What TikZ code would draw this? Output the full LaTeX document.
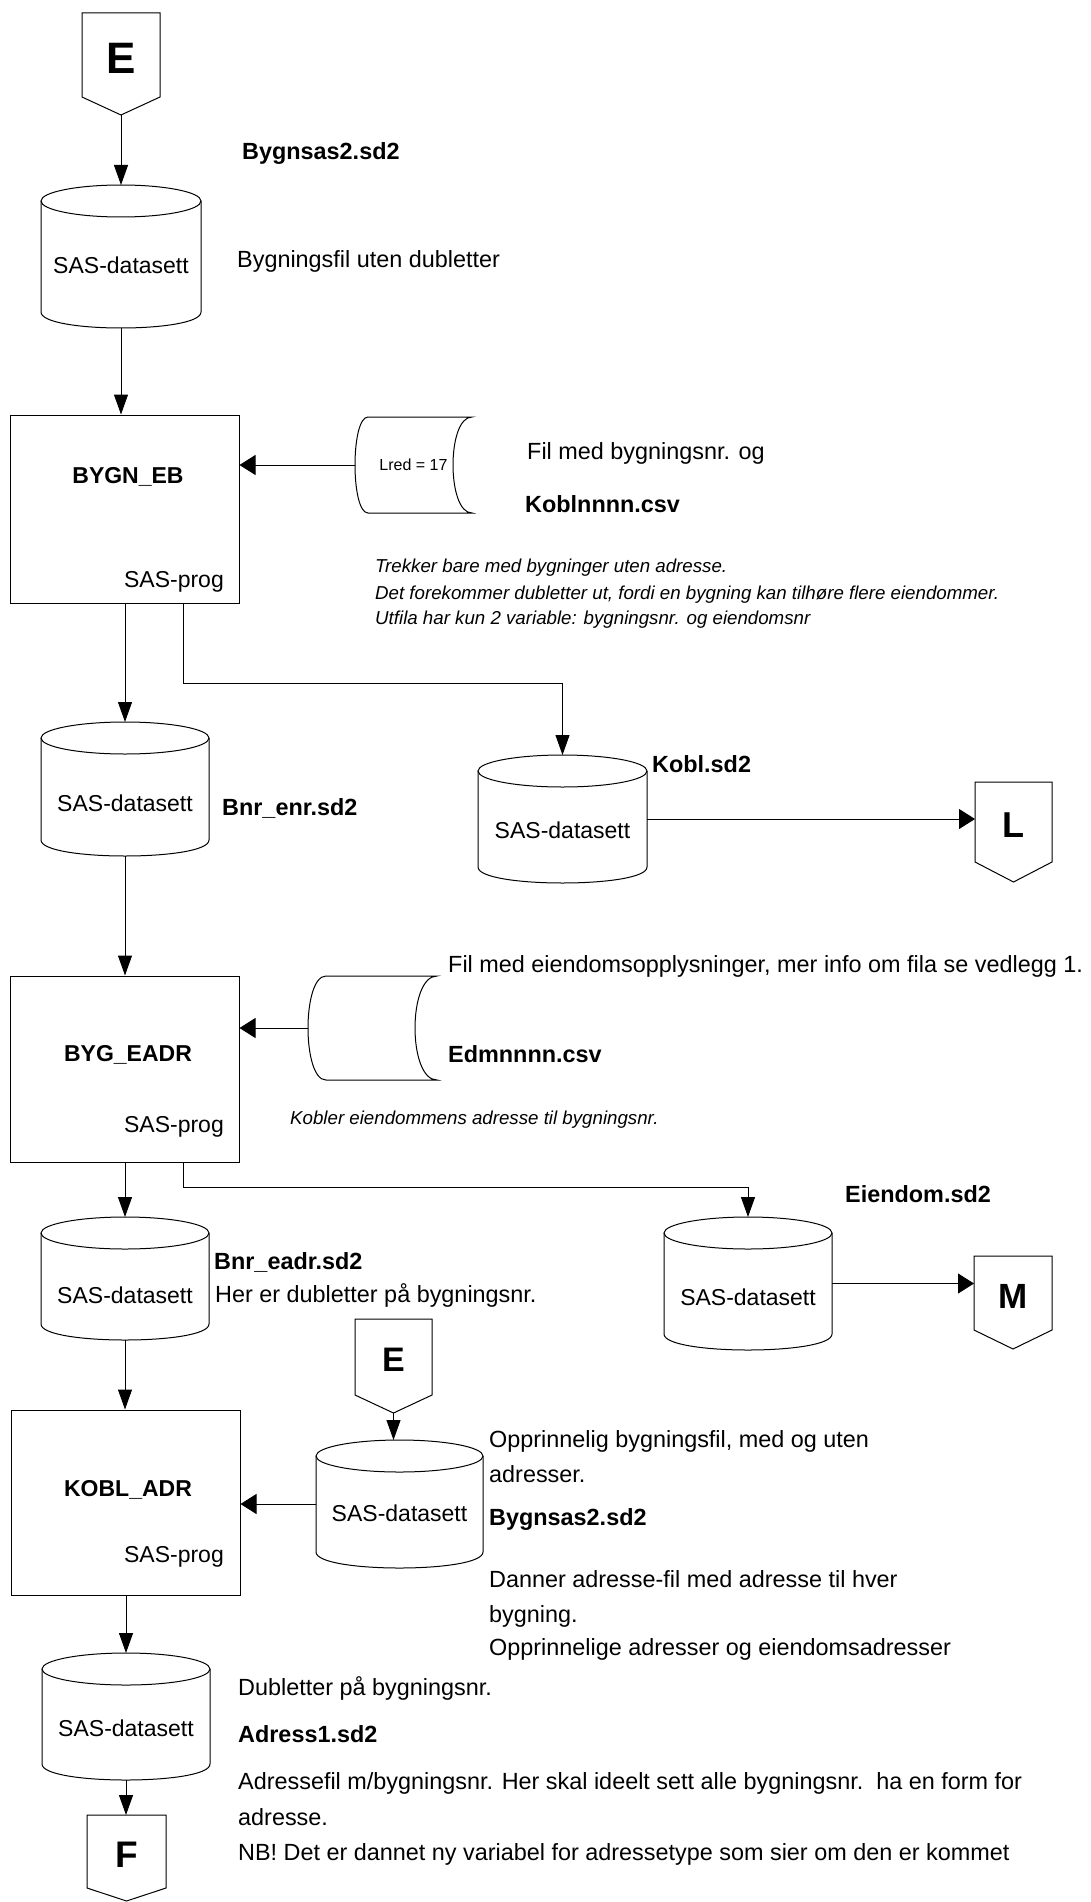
\documentclass[tikz,border=0pt]{standalone}
\usepackage{fontspec}
\setmainfont{Liberation Sans}
\usetikzlibrary{arrows.meta}

\tikzset{
  line/.style={line width=1pt, draw=black},
  vtip/.style={-{Triangle[length=20pt,width=14pt]}},
  htip/.style={-{Triangle[length=16pt,width=20pt]}},
  lbl/.style={anchor=base west, inner sep=0pt, font=\fontsize{23.4}{27}\selectfont},
  blbl/.style={anchor=base west, inner sep=0pt, font=\fontsize{23.4}{27}\selectfont\bfseries},
  ilbl/.style={anchor=base west, inner sep=0pt, font=\fontsize{18.7}{22}\selectfont\itshape},
  intext/.style={anchor=base, inner sep=0pt, font=\fontsize{23}{27}\selectfont},
  progname/.style={anchor=base, inner sep=0pt, font=\fontsize{23}{27}\selectfont\bfseries},
  progtag/.style={anchor=base east, inner sep=0pt, font=\fontsize{23}{27}\selectfont},
  procbox/.style={line, rectangle, inner sep=0pt},
  anchorbox/.style={inner sep=0pt, outer sep=0pt, rectangle}
}

% data set cylinder: name, centre x, top, bottom, half width, text baseline
\newcommand\datacyl[6]{%
  \node[anchorbox, minimum width={(2*#5)*1pt}, minimum height={(#4-#3)*1pt}] (#1) at ({#2},{(#3+#4)/2}) {};
  \draw[line] ({#2},{#3+16}) ellipse [x radius=#5, y radius=16];
  \draw[line] ({#2-#5},{#3+16}) -- ({#2-#5},{#4-16})
     .. controls ({#2-#5},{#4+5.33}) and ({#2+#5},{#4+5.33}) .. ({#2+#5},{#4-16})
     -- ({#2+#5},{#3+16});
  \node[intext] at ({#2},{#6}) {SAS-datasett};
}

% off-page connector: name, centre x, top, shoulder, point, half width, letter, letter size
\newcommand\offpage[8]{%
  \node[anchorbox, minimum width={(2*#6)*1pt}, minimum height={(#5-#3)*1pt}] (#1) at ({#2},{(#3+#5)/2}) {};
  \draw[line] ({#2-#6},{#3}) -- ({#2+#6},{#3}) -- ({#2+#6},{#4}) -- ({#2},{#5}) -- ({#2-#6},{#4}) -- cycle;
  \node[inner sep=0pt, font=\fontsize{#8}{#8}\selectfont\bfseries] at ({#2},{(#3+#4)/2+3}) {#7};
}

% stored file: name, left, right, top, bottom, left bulge, right inset, text
\newcommand\storedfile[8]{%
  \node[anchorbox, minimum width={(#3-#2+#6)*1pt}, minimum height={(#5-#4)*1pt},
        font=\fontsize{16}{19}\selectfont] (#1) at ({(#2-#6+#3)/2},{(#4+#5)/2}) {#8};
  \draw[line] ({#2},{#4}) -- ({#3},{#4})
     .. controls ({#3-1.333*#7},{#4}) and ({#3-1.333*#7},{#5}) .. ({#3},{#5})
     -- ({#2},{#5})
     .. controls ({#2-1.333*#6},{#5}) and ({#2-1.333*#6},{#4}) .. ({#2},{#4}) -- cycle;
}

\begin{document}
\begin{tikzpicture}[x=1pt,y=-1pt]
\useasboundingbox (0,0) rectangle (1091,1902);

% ---------- first step: BYGN_EB ----------
\offpage{E1}{121}{13}{97}{115}{39}{E}{44}
\datacyl{cyl1}{121}{185}{328}{80}{273}
\node[blbl] (t1) at (242,160) {Bygnsas2.sd2};
\node[lbl] (t2) at (237,268) {Bygningsfil uten dubletter};

\node[procbox, minimum width=229pt, minimum height=188pt] (bygneb) at (124.5,509) {};
\node[progname] (p1) at (128,483) {BYGN\_EB};
\node[progtag] (p1t) at (224,587) {SAS-prog};

\storedfile{lred}{368}{472}{417}{513}{13}{19}{Lred = 17}
\node[lbl] (t3) at (527,459) {Fil med bygningsnr. og};
\node[blbl] (t4) at (525,512) {Koblnnnn.csv};
\node[ilbl] (t5) at (375,572) {Trekker bare med bygninger uten adresse.};
\node[ilbl] (t6) at (375,599) {Det forekommer dubletter ut, fordi en bygning kan tilhøre flere eiendommer.};
\node[ilbl] (t7) at (375,624) {Utfila har kun 2 variable: bygningsnr. og eiendomsnr};

\datacyl{bnrenr}{125}{722}{856}{84}{811}
\node[blbl] (t8) at (222,815) {Bnr\_enr.sd2};
\datacyl{kobl}{562.5}{755}{883}{84.5}{838}
\node[blbl] (t9) at (652,772) {Kobl.sd2};
\offpage{L}{1013.5}{782}{862}{882}{38.5}{L}{36}

% ---------- second step: BYG_EADR ----------
\node[procbox, minimum width=229pt, minimum height=186pt] (bygeadr) at (124.5,1069) {};
\node[progname] (p2) at (128,1061) {BYG\_EADR};
\node[progtag] (p2t) at (224,1132) {SAS-prog};

\storedfile{edm}{326}{437}{976}{1080}{18}{22}{}
\node[lbl] (t10) at (448,972) {Fil med eiendomsopplysninger, mer info om fila se vedlegg 1.};
\node[blbl] (t11) at (448,1062) {Edmnnnn.csv};
\node[ilbl] (t12) at (290,1124) {Kobler eiendommens adresse til bygningsnr.};

\datacyl{bnreadr}{125}{1217}{1340}{84}{1303}
\node[blbl] (t13) at (214,1269) {Bnr\_eadr.sd2};
\node[lbl] (t14) at (215,1302) {Her er dubletter på bygningsnr.};
\datacyl{eiendom}{748}{1217}{1350}{84}{1305}
\node[blbl] (t15) at (845,1202) {Eiendom.sd2};
\offpage{M}{1013}{1256}{1330}{1349}{39}{M}{35}

% ---------- third step: KOBL_ADR ----------
\node[procbox, minimum width=229pt, minimum height=185pt] (koblbox) at (125.5,1502.5) {};
\node[progname] (p3) at (128,1496) {KOBL\_ADR};
\node[progtag] (p3t) at (224,1562) {SAS-prog};

\offpage{E2}{393.5}{1319}{1395}{1413}{38.5}{E}{34}
\datacyl{cyl2}{399.5}{1440}{1568}{83.5}{1521}
\node[lbl] (t16) at (489,1447) {Opprinnelig bygningsfil, med og uten};
\node[lbl] (t17) at (489,1482) {adresser.};
\node[blbl] (t18) at (489,1525) {Bygnsas2.sd2};
\node[lbl] (t19) at (489,1587) {Danner adresse-fil med adresse til hver};
\node[lbl] (t20) at (489,1622) {bygning.};
\node[lbl] (t21) at (489,1655) {Opprinnelige adresser og eiendomsadresser};

\datacyl{adress1}{126}{1653}{1780}{84}{1736}
\node[lbl] (t22) at (238,1695) {Dubletter på bygningsnr.};
\node[blbl] (t23) at (238,1742) {Adress1.sd2};
\node[lbl] (t24) at (238,1789) {Adressefil m/bygningsnr. Her skal ideelt sett alle bygningsnr.\hspace{13pt}ha en form for};
\node[lbl] (t25) at (238,1825) {adresse.};
\node[lbl] (t26) at (238,1860) {NB! Det er dannet ny variabel for adressetype som sier om den er kommet};
\offpage{F}{126.5}{1815}{1888}{1901}{39.5}{F}{37}

% ---------- connectors ----------
\draw[line,vtip] (E1.south) -- (E1.south |- cyl1.north);
\draw[line,vtip] (cyl1.south) -- (cyl1.south |- bygneb.north);
\draw[line,htip] (lred.west) -- (lred.west -| bygneb.east);
\draw[line,vtip] (bygneb.south -| bnrenr.north) -- (bnrenr.north);
\draw[line,vtip] ([xshift=58.5pt]bygneb.south) -- ++(0,80) -| (kobl.north);
\draw[line,htip] (kobl.east) -- (kobl.east -| L.west);

\draw[line,vtip] (bnrenr.south) -- (bnrenr.south |- bygeadr.north);
\draw[line,htip] (edm.west) -- (edm.west -| bygeadr.east);
\draw[line,vtip] (bygeadr.south -| bnreadr.north) -- (bnreadr.north);
\draw[line,vtip] ([xshift=58.5pt]bygeadr.south) -- ++(0,25) -| (eiendom.north);
\draw[line,htip] (eiendom.east) -- (eiendom.east -| M.west);

\draw[line,vtip] (bnreadr.south) -- (bnreadr.south |- koblbox.north);
\draw[line,vtip] (E2.south) -- (E2.south |- cyl2.north);
\draw[line,htip] (cyl2.west) -- (cyl2.west -| koblbox.east);
\draw[line,vtip] (koblbox.south -| adress1.north) -- (adress1.north);
\draw[line,vtip] (adress1.south) -- (adress1.south |- F.north);
\end{tikzpicture}
\end{document}
